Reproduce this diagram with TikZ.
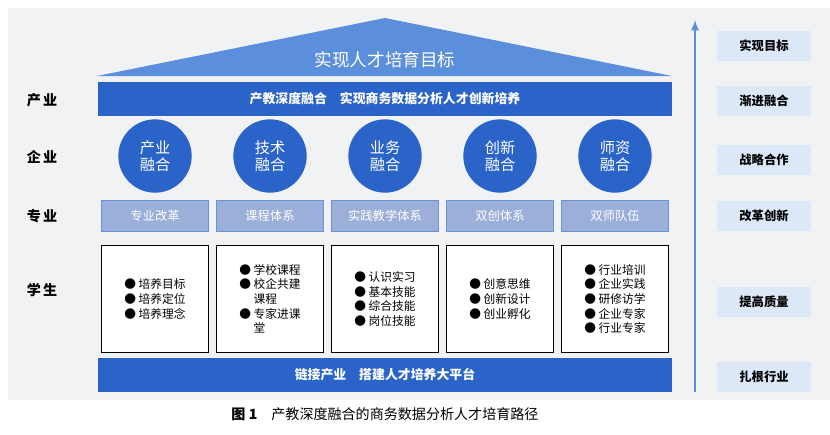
\documentclass[tikz,border=0pt]{standalone}
\usepackage{fontspec}
\setmainfont{Noto Sans CJK SC}
\usetikzlibrary{positioning}
\definecolor{darkband}{HTML}{2A64C8}
\definecolor{roofblue}{HTML}{5B8FDC}
\definecolor{paleblue}{HTML}{9CAFD8}
\definecolor{tagblue}{HTML}{DCE8F8}
\definecolor{bggray}{HTML}{F1F2F4}
\tikzset{
  band/.style={fill=darkband,draw=none,text=white,font=\bfseries\fontsize{11}{13}\selectfont},
  fusion/.style={circle,fill=darkband,text=white,minimum size=2.2cm,align=center,font=\fontsize{13}{15}\selectfont,inner sep=0pt},
  majorbox/.style={fill=paleblue,draw=darkband!70,line width=0.8pt,text=white,minimum width=3.2cm,minimum height=0.93cm,font=\fontsize{10.5}{12}\selectfont},
  studentbox/.style={fill=white,draw=black,line width=1pt,minimum width=3.2cm,minimum height=3.22cm,inner sep=0pt},
  listtext/.style={align=left,font=\fontsize{10}{12.5}\selectfont},
  sidelabel/.style={font=\bfseries\fontsize{12}{14}\selectfont},
  tag/.style={fill=tagblue,minimum width=2.8cm,minimum height=0.9cm,font=\bfseries\fontsize{10.5}{12}\selectfont},
}
\begin{document}
\begin{tikzpicture}[x=0.03cm,y=-0.03cm,>=latex]
  \useasboundingbox (0,0) rectangle (830,434);
  \fill[bggray] (8,8) rectangle (830,400);

  % roof
  \fill[roofblue] (97,76) -- (385,18) -- (672,76) -- cycle;
  \node (goal) at (385,60) [text=white,font=\fontsize{15}{17}\selectfont] {实现人才培育目标};

  % bands
  \node (industry) at (385,99) [band,minimum width=17.2cm,minimum height=1cm] {产教深度融合\quad 实现商务数据分析人才创新培养};
  \node (platform) at (385,375) [band,minimum width=17.2cm,minimum height=1.02cm] {链接产业\quad 搭建人才培养大平台};

  % fusion circles
  \node (circ_1) at (155,156) [fusion] {产业\\融合};
  \node (circ_2) at (270,156) [fusion] {技术\\融合};
  \node (circ_3) at (385,156) [fusion] {业务\\融合};
  \node (circ_4) at (500,156) [fusion] {创新\\融合};
  \node (circ_5) at (615,156) [fusion] {师资\\融合};

  % major boxes
  \node (major_1) at (155,216) [majorbox] {专业改革};
  \node (major_2) at (270,216) [majorbox] {课程体系};
  \node (major_3) at (385,216) [majorbox] {实践教学体系};
  \node (major_4) at (500,216) [majorbox] {双创体系};
  \node (major_5) at (615,216) [majorbox] {双师队伍};

  % student boxes
  \node (stu_1) at (155,299) [studentbox] {};
  \node (stu_2) at (270,299) [studentbox] {};
  \node (stu_3) at (385,299) [studentbox] {};
  \node (stu_4) at (500,299) [studentbox] {};
  \node (stu_5) at (615,299) [studentbox] {};
  \node at (stu_1) [listtext] {● 培养目标\\● 培养定位\\● 培养理念};
  \node at (stu_2) [listtext] {● 学校课程\\● 校企共建\\\phantom{●} 课程\\● 专家进课\\\phantom{●} 堂};
  \node at (stu_3) [listtext] {● 认识实习\\● 基本技能\\● 综合技能\\● 岗位技能};
  \node at (stu_4) [listtext] {● 创意思维\\● 创新设计\\● 创业孵化};
  \node at (stu_5) [listtext] {● 行业培训\\● 企业实践\\● 研修访学\\● 企业专家\\● 行业专家};

  % left labels
  \node (lab_1) at (42,100) [sidelabel] {产\,业};
  \node (lab_2) at (42,157) [sidelabel] {企\,业};
  \node (lab_3) at (42,216) [sidelabel] {专\,业};
  \node (lab_4) at (42,290) [sidelabel] {学\,生};

  % right arrow and tags
  \coordinate (arr_s) at (695,392);
  \coordinate (arr_e) at (695,20);
  \draw[->,roofblue,line width=2pt] (arr_s) -- (arr_e);
  \node (tag_1) at (764,46) [tag] {实现目标};
  \node (tag_2) at (764,101) [tag] {渐进融合};
  \node (tag_3) at (764,160) [tag] {战略合作};
  \node (tag_4) at (764,216) [tag] {改革创新};
  \node (tag_5) at (764,302) [tag] {提高质量};
  \node (tag_6) at (764,377) [tag] {扎根行业};

  % caption
  \node (caption) at (385,414) [font=\fontsize{12}{14}\selectfont] {\textbf{图 1}\quad 产教深度融合的商务数据分析人才培育路径};
\end{tikzpicture}
\end{document}
